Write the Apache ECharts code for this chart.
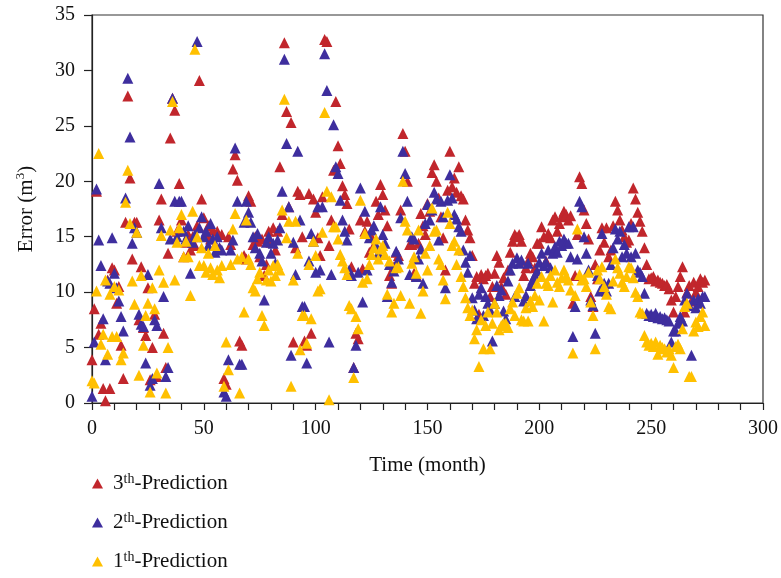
<!DOCTYPE html>
<html>
<head>
<meta charset="utf-8">
<script src="https://cdn.jsdelivr.net/npm/echarts@6/dist/echarts.min.js"></script>
<style>html,body{margin:0;padding:0;background:#fff}#c{width:781px;height:578px}</style>
</head>
<body>
<div id="c"></div>
<script>
// Error values per month (index = month, 0..274)
const pred3 = [
3.9, 8.5, 19.1, 6.2, 7.2, 1.3, 0.2, 11.1, 1.3, 12.2,
12.0, 9.0, 10.5, 5.2, 2.2, 16.3, 27.7, 20.3, 13.0, 16.3,
16.3, 7.5, 12.3, 6.8, 6.1, 10.4, 2.1, 5.0, 8.0, 2.4,
16.5, 18.4, 6.3, 3.2, 13.5, 23.9, 27.5, 26.4, 15.5, 19.8,
16.5, 13.2, 14.5, 15.2, 13.8, 15.0, 14.2, 16.0, 29.1, 18.4,
16.7, 15.2, 16.0, 14.8, 15.6, 14.2, 15.5, 14.0, 15.2, 2.2,
1.7, 15.0, 14.3, 21.1, 22.4, 20.1, 5.6, 5.2, 13.3, 13.0,
18.7, 18.2, 14.3, 15.0, 14.6, 13.2, 14.8, 11.5, 12.5, 15.5,
14.5, 15.8, 13.8, 15.5, 21.3, 17.0, 32.5, 26.3, 17.7, 25.3,
5.5, 14.0, 19.1, 18.8, 15.0, 5.6, 5.2, 18.9, 6.3, 18.4,
17.2, 14.9, 13.3, 18.6, 32.8, 32.6, 14.2, 16.5, 21.0, 27.2,
23.2, 21.6, 19.6, 18.8, 18.0, 15.7, 12.3, 3.2, 6.3, 5.8,
16.5, 12.1, 15.5, 16.4, 13.6, 15.0, 14.2, 18.2, 17.0, 19.7,
18.8, 17.4, 16.0, 11.5, 10.8, 12.3, 13.6, 13.3, 17.4, 24.3,
22.7, 20.0, 14.3, 14.3, 11.7, 11.5, 14.4, 17.1, 16.0, 15.2,
18.0, 17.3, 20.8, 21.5, 20.0, 18.5, 16.8, 14.9, 12.0, 19.2,
22.7, 19.5, 20.3, 19.0, 21.3, 18.7, 18.4, 16.5, 15.6, 14.9,
13.3, 10.8, 11.4, 8.0, 11.6, 11.2, 11.5, 11.7, 9.6, 10.5,
11.7, 13.3, 12.7, 10.5, 11.3, 9.8, 12.0, 13.6, 14.6, 15.2,
15.0, 15.2, 14.6, 11.5, 12.2, 12.8, 13.5, 13.2, 12.2, 14.4,
14.4, 15.9, 15.0, 12.8, 15.3, 14.9, 16.5, 16.8, 15.5, 16.2,
16.8, 17.3, 17.0, 16.5, 16.9, 9.0, 11.5, 15.2, 20.4, 19.8,
17.4, 16.2, 14.8, 9.6, 8.7, 12.5, 11.2, 13.8, 15.8, 14.5,
15.8, 13.2, 13.8, 16.0, 18.2, 17.4, 16.5, 15.6, 15.0, 14.5,
14.7, 16.2, 19.4, 18.4, 17.2, 16.4, 15.5, 14.0, 12.5, 11.2,
11.3, 11.4, 11.0, 11.1, 10.9, 10.8, 10.6, 10.7, 10.3, 9.3,
8.2, 9.6, 10.5, 11.4, 12.3, 8.2, 10.0, 10.6, 9.2, 10.9, 10.0, 10.5, 11.2, 10.9, 11.1
];
const pred2 = [
0.6, 5.5, 19.3, 14.7, 12.4, 7.6, 3.9, 11.0, 10.8, 14.9,
11.7, 10.4, 9.2, 7.8, 6.5, 18.5, 29.3, 24.0, 14.4, 15.8,
15.4, 8.0, 7.1, 6.9, 3.6, 11.6, 1.6, 2.2, 7.5, 7.0,
19.8, 15.8, 9.6, 2.4, 3.2, 14.8, 27.5, 18.2, 15.0, 18.2,
18.2, 15.5, 14.8, 16.0, 11.7, 14.5, 15.2, 32.6, 15.8, 16.8,
15.0, 15.5, 14.2, 16.2, 14.8, 13.6, 15.0, 14.0, 13.8, 1.0,
0.6, 3.9, 13.8, 14.7, 23.0, 18.2, 3.5, 3.5, 16.3, 18.2,
17.2, 16.3, 15.0, 14.0, 15.3, 13.5, 12.8, 9.3, 14.5, 15.0,
13.5, 14.4, 12.6, 14.7, 15.8, 19.1, 31.0, 23.4, 17.7, 4.3,
14.5, 11.6, 22.7, 16.5, 8.7, 8.7, 3.6, 12.8, 15.3, 14.6,
11.8, 17.7, 12.0, 17.7, 31.5, 28.2, 5.5, 11.6, 25.1, 21.3,
20.7, 18.3, 16.5, 15.5, 14.7, 12.0, 11.5, 3.2, 5.2, 11.8,
19.4, 9.1, 17.3, 12.0, 14.9, 15.6, 16.0, 14.2, 13.5, 17.7,
15.2, 14.4, 9.6, 12.5, 10.9, 11.9, 13.7, 13.0, 16.7, 22.7,
20.7, 18.2, 11.6, 15.0, 14.8, 11.4, 13.0, 13.9, 10.8, 16.2,
17.9, 16.5, 17.4, 19.0, 18.4, 14.7, 18.2, 16.8, 10.4, 18.3,
20.6, 18.5, 17.0, 16.6, 15.9, 15.5, 13.8, 12.7, 11.8, 13.3,
9.5, 8.4, 7.6, 9.8, 10.4, 7.9, 9.6, 9.0, 8.4, 5.6,
9.0, 10.6, 9.7, 10.2, 8.3, 7.6, 11.0, 12.0, 12.6, 9.6,
13.1, 12.6, 12.9, 9.2, 9.7, 12.6, 10.6, 11.1, 11.5, 11.9,
12.7, 13.5, 12.4, 12.7, 13.8, 12.2, 13.5, 14.1, 13.6, 14.6,
14.2, 14.8, 14.4, 14.4, 13.2, 6.0, 8.7, 13.0, 18.2, 17.7,
15.0, 13.5, 12.0, 9.3, 8.8, 6.3, 11.5, 10.1, 15.3, 10.8,
10.1, 10.8, 12.5, 14.0, 15.7, 14.8, 15.5, 13.2, 14.3, 13.5,
15.9, 13.2, 15.9, 13.5, 12.0, 11.8, 11.4, 9.9, 8.1, 7.9,
8.0, 7.8, 8.1, 7.7, 7.8, 7.6, 7.7, 7.5, 7.4, 5.5,
6.5, 6.5, 7.2, 7.8, 7.4, 9.3, 9.9, 8.8, 4.3, 9.3, 8.6, 9.4, 9.0, 9.6, 9.6
];
const pred1 = [
2.0, 1.8, 10.1, 22.5, 5.3, 6.2, 11.1, 4.4, 9.8, 6.0,
10.5, 6.0, 10.2, 3.9, 4.5, 18.1, 21.0, 16.2, 11.0, 8.9,
15.4, 2.5, 11.5, 5.2, 7.9, 9.0, 1.0, 10.4, 8.5, 2.7,
12.0, 15.1, 10.9, 0.9, 5.0, 15.6, 27.2, 11.1, 14.5, 15.8,
17.0, 13.2, 14.6, 13.2, 9.7, 17.3, 31.9, 15.0, 12.4, 14.0,
12.4, 11.8, 13.5, 12.2, 11.6, 14.2, 12.0, 11.3, 12.4, 1.5,
5.5, 3.0, 12.5, 15.7, 17.1, 13.0, 0.9, 13.2, 8.2, 16.5,
13.0, 12.5, 10.4, 10.1, 11.2, 11.8, 7.9, 7.0, 11.1, 12.0,
11.0, 12.4, 11.5, 12.5, 12.0, 17.4, 27.4, 14.9, 16.4, 1.5,
11.1, 16.4, 13.5, 4.8, 7.9, 7.9, 5.4, 12.5, 7.6, 14.6,
13.3, 10.1, 10.3, 15.4, 26.2, 19.1, 0.3, 18.6, 15.9, 15.9,
14.8, 13.4, 12.8, 12.2, 11.6, 8.8, 8.5, 2.3, 7.8, 6.7,
18.3, 10.9, 15.3, 11.2, 12.5, 13.4, 14.0, 14.8, 13.0, 13.9,
14.2, 13.4, 9.8, 12.8, 8.2, 9.0, 12.2, 12.3, 9.7, 20.0,
16.4, 15.6, 9.0, 12.6, 13.2, 11.7, 15.6, 8.1, 10.1, 13.5,
12.0, 14.2, 17.6, 15.5, 15.6, 13.0, 12.5, 11.1, 9.4, 17.2,
16.2, 14.2, 14.6, 12.5, 13.8, 11.4, 10.5, 9.5, 8.6, 7.9,
8.4, 5.8, 6.6, 3.3, 7.5, 4.9, 7.0, 8.2, 4.9, 7.2,
9.0, 8.2, 6.6, 7.0, 7.2, 7.2, 6.8, 8.5, 9.1, 7.9,
9.9, 10.4, 7.5, 7.4, 8.6, 7.4, 9.2, 8.7, 9.7, 10.8,
9.3, 11.4, 7.4, 10.8, 10.6, 11.5, 9.1, 12.0, 10.9, 10.5,
11.3, 12.0, 11.4, 11.1, 10.2, 4.5, 9.7, 15.7, 11.6, 11.1,
11.2, 10.5, 11.8, 9.1, 7.9, 4.9, 12.0, 11.2, 12.3, 10.5,
9.8, 8.7, 8.5, 11.0, 13.0, 12.2, 11.7, 10.9, 10.5, 11.4,
12.3, 12.2, 11.3, 10.0, 9.6, 8.2, 8.1, 6.1, 5.5, 5.2,
5.4, 5.1, 5.5, 4.4, 5.2, 5.0, 4.9, 4.6, 4.9, 4.3,
3.2, 5.1, 5.3, 4.9, 6.7, 8.7, 9.0, 2.4, 2.4, 6.5, 7.3, 6.9, 7.8, 8.2, 7.0
];
const seriesNames = ['3th-Prediction', '2th-Prediction', '1th-Prediction'];
const seriesColors = ['#C1262C', '#3E2E9E', '#FFC000'];
const xTicks = [0, 50, 100, 150, 200, 250, 300];
const yTicks = [0, 5, 10, 15, 20, 25, 30, 35];

const FONT = 'Liberation Serif';
const toPoints = arr => arr.map((v, i) => [i, v]);
const allData = [pred3, pred2, pred1];

const chart = echarts.init(document.getElementById('c'), null, {renderer: 'canvas'});
chart.setOption({
  animation: false,
  backgroundColor: '#fff',
  grid: {left: 92, right: 16, top: 15, bottom: 175, show: true, borderColor: '#333', borderWidth: 1.2, backgroundColor: 'transparent'},
  legend: {
    orient: 'vertical', left: 92, top: 472, itemGap: 17, padding: 0,
    icon: 'triangle', itemWidth: 11, itemHeight: 10,
    data: seriesNames,
    formatter: name => '{f|' + name.charAt(0) + '}{s|th}{n|' + name.slice(3) + '}',
    textStyle: {
      fontFamily: FONT, fontSize: 21, color: '#111',
      rich: {
        f: {fontFamily: FONT, fontSize: 21, color: '#111', lineHeight: 23, padding: [0, 0, 0, 5]},
        n: {fontFamily: FONT, fontSize: 21, color: '#111', lineHeight: 23},
        s: {fontFamily: FONT, fontSize: 14, color: '#111', verticalAlign: 'top', lineHeight: 12}
      }
    }
  },
  xAxis: {
    type: 'value', min: 0, max: 300, interval: 50,
    name: 'Time (month)', nameLocation: 'middle', nameGap: 52,
    nameTextStyle: {fontFamily: FONT, fontSize: 21, color: '#111'},
    axisLine: {show: true, onZero: false, lineStyle: {color: '#222', width: 1.2}},
    axisTick: {show: true, inside: false, length: 7, lineStyle: {color: '#222', width: 1.2}},
    minorTick: {show: true, splitNumber: 5, length: 7, lineStyle: {color: '#222', width: 1.2}},
    axisLabel: {fontFamily: FONT, fontSize: 20, color: '#111', margin: 16,
      formatter: v => xTicks.includes(v) ? String(v) : ''},
    splitLine: {show: false}
  },
  yAxis: {
    type: 'value', min: 0, max: 35, interval: 5,
    name: '{n|Error (m}{s|3}{n|)}', nameLocation: 'middle', nameGap: 54,
    nameTextStyle: {fontFamily: FONT, fontSize: 21, color: '#111',
      rich: {
        n: {fontFamily: FONT, fontSize: 21, color: '#111', lineHeight: 24},
        s: {fontFamily: FONT, fontSize: 13, color: '#111', verticalAlign: 'top', lineHeight: 12}
      }},
    axisLine: {show: true, onZero: false, lineStyle: {color: '#222', width: 1.2}},
    axisTick: {show: true, inside: false, length: 8, lineStyle: {color: '#222', width: 1.2}},
    axisLabel: {fontFamily: FONT, fontSize: 20, color: '#111', margin: 17,
      formatter: v => yTicks.includes(v) ? String(v) : ''},
    splitLine: {show: false}
  },
  series: seriesNames.map((name, k) => ({
    name: name, type: 'scatter', symbol: 'triangle', symbolSize: 11,
    itemStyle: {color: seriesColors[k], opacity: 1},
    data: toPoints(allData[k]),
    z: 2 + k
  }))
});
</script>
</body>
</html>
